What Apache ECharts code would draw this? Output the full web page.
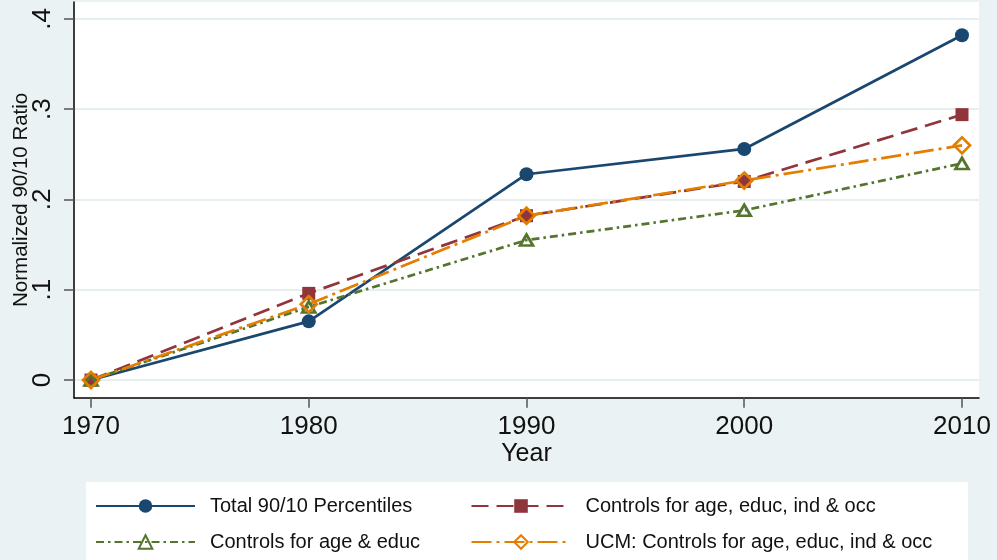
<!DOCTYPE html>
<html>
<head>
<meta charset="utf-8">
<script src="https://cdn.jsdelivr.net/npm/echarts@6/dist/echarts.min.js"></script>
<style>
html,body{margin:0;padding:0;background:#eaf2f3;}
#chart{width:997px;height:560px;}
</style>
</head>
<body>
<div id="chart"></div>
<script>
// ---- data ----
const years = [1970, 1980, 1990, 2000, 2010];
const total9010 = [0, 0.065, 0.228, 0.256, 0.382];
const ctrlAgeEducIndOcc = [0, 0.096, 0.182, 0.220, 0.294];
const ctrlAgeEduc = [0, 0.081, 0.155, 0.188, 0.240];
const ucmCtrl = [0, 0.084, 0.182, 0.221, 0.260];
const seriesNames = ['Total 90/10 Percentiles', 'Controls for age, educ, ind & occ', 'Controls for age & educ', 'UCM: Controls for age, educ, ind & occ'];
const xTickValues = [1970, 1980, 1990, 2000, 2010];
const yTickValues = [0, 0.1, 0.2, 0.3, 0.4];
const yTickLabels = ['0', '.1', '.2', '.3', '.4'];
const xAxisTitle = 'Year';
const yAxisTitle = 'Normalized 90/10 Ratio';

const FONT = 'Liberation Sans, Arial, sans-serif';
const pair = arr => years.map((y, i) => [y, arr[i]]);

const chart = echarts.init(document.getElementById('chart'), null, {renderer: 'canvas'});

function legendAt(name, left, top) {
  return {
    data: [name], left: left, top: top, padding: 0,
    itemWidth: 99, itemHeight: 17,
    textStyle: {fontFamily: FONT, fontSize: 20, color: '#111', padding: [0, 0, 0, 10]},
    selectedMode: false
  };
}

const option = {
  animation: false,
  backgroundColor: '#eaf2f3',
  graphic: [
    {type: 'rect', z: -10, shape: {x: 74, y: 2, width: 905, height: 396}, style: {fill: '#ffffff'}},
    {type: 'rect', z: -10, shape: {x: 86, y: 482, width: 882, height: 90}, style: {fill: '#ffffff'}}
  ],
  grid: {left: 74, top: 2, right: 18, bottom: 162.3, containLabel: false, outerBoundsMode: 'none'},
  xAxis: {
    type: 'value', min: 1969.219, max: 2010.781,
    name: xAxisTitle, nameLocation: 'middle', nameGap: 44, nameMoveOverlap: false,
    nameTextStyle: {fontFamily: FONT, fontSize: 25, color: '#111'},
    axisLine: {show: true, onZero: false, lineStyle: {color: '#000', width: 1.5}},
    axisTick: {show: true, length: 10, lineStyle: {color: '#555', width: 1.5}, customValues: xTickValues},
    axisLabel: {show: true, margin: 16, fontFamily: FONT, fontSize: 26, color: '#111', customValues: xTickValues,
      formatter: v => String(v)},
    splitLine: {show: false}
  },
  yAxis: {
    type: 'value', min: -0.0196, max: 0.4188, minInterval: 0.1, maxInterval: 0.1,
    name: yAxisTitle, nameLocation: 'middle', nameGap: 42, nameMoveOverlap: false,
    nameTextStyle: {fontFamily: FONT, fontSize: 20.5, color: '#111'},
    axisLine: {show: true, onZero: false, lineStyle: {color: '#000', width: 1.5}},
    axisTick: {show: true, length: 10, lineStyle: {color: '#555', width: 1.5}, customValues: yTickValues},
    axisLabel: {show: true, rotate: 90, margin: 18, fontFamily: FONT, fontSize: 26, color: '#111', customValues: yTickValues,
      formatter: v => { const i = yTickValues.findIndex(t => Math.abs(t - v) < 1e-9); return i >= 0 ? yTickLabels[i] : ''; }},
    splitLine: {show: true, lineStyle: {color: '#e6eef0', width: 1.8}}
  },
  legend: [
    legendAt(seriesNames[0], 95, 496),
    legendAt(seriesNames[1], 470.5, 496),
    legendAt(seriesNames[2], 95, 532),
    legendAt(seriesNames[3], 470.5, 532)
  ],
  series: [
    {
      name: seriesNames[0], type: 'line', data: pair(total9010),
      symbol: 'circle', symbolSize: 14,
      lineStyle: {color: '#1a476f', width: 2.7, type: 'solid'},
      itemStyle: {color: '#1a476f'}
    },
    {
      name: seriesNames[1], type: 'line', data: pair(ctrlAgeEducIndOcc),
      symbol: 'rect', symbolSize: 13,
      lineStyle: {color: '#90353b', width: 2.7, type: [17, 8]},
      itemStyle: {color: '#90353b'}
    },
    {
      name: seriesNames[2], type: 'line', data: pair(ctrlAgeEduc),
      symbol: 'triangle', symbolSize: [13, 11],
      lineStyle: {color: '#55752f', width: 2.7, type: [8, 4, 2.5, 4]},
      itemStyle: {color: 'rgba(255,255,255,0)', borderColor: '#55752f', borderWidth: 2.7}
    },
    {
      name: seriesNames[3], type: 'line', data: pair(ucmCtrl),
      symbol: 'diamond', symbolSize: 16,
      lineStyle: {color: '#e37e00', width: 2.7, type: [20, 5, 3, 5]},
      itemStyle: {color: 'rgba(255,255,255,0)', borderColor: '#e37e00', borderWidth: 2.7}
    }
  ]
};
chart.setOption(option);
</script>
</body>
</html>
